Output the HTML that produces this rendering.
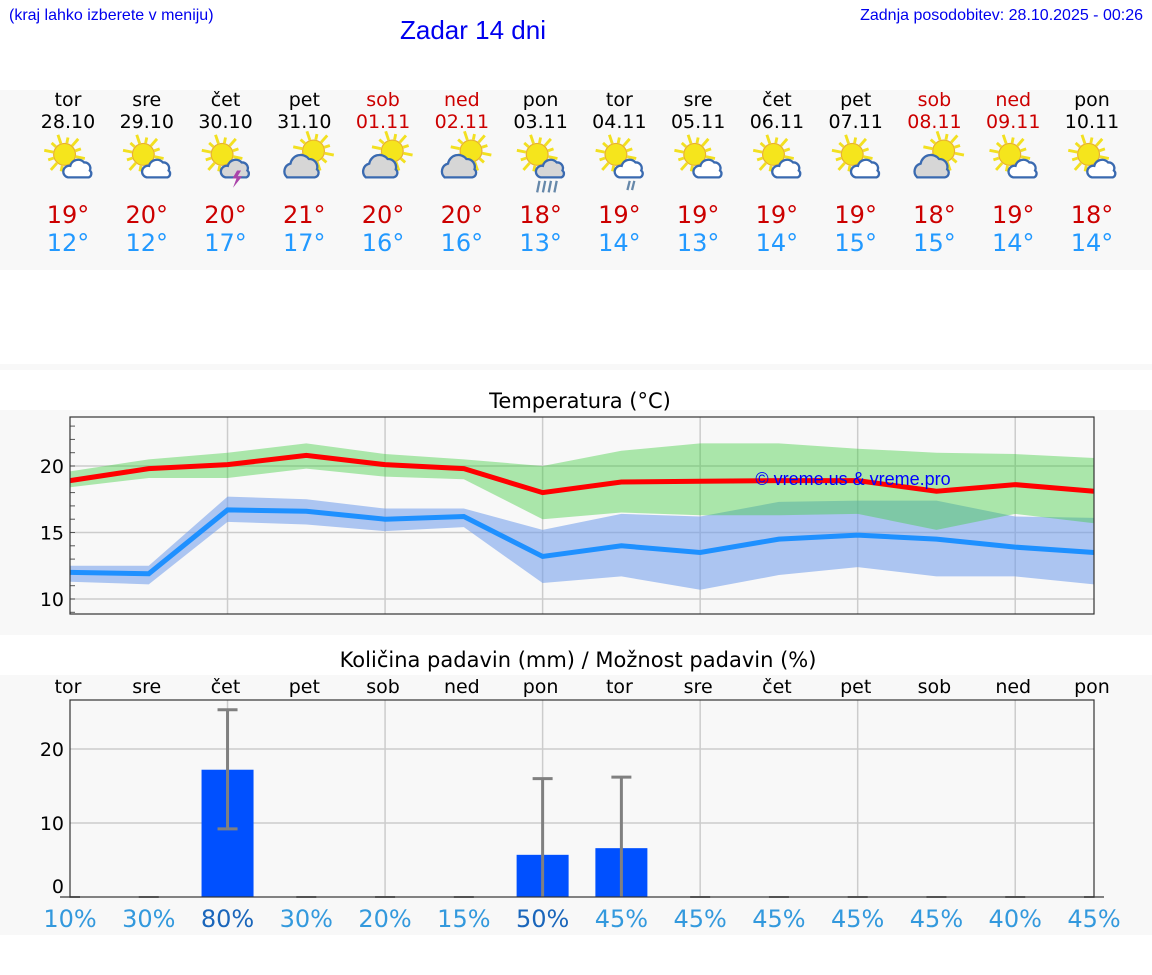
<!DOCTYPE html>
<html><head><meta charset="utf-8">
<style>
body{margin:0;width:1152px;height:975px;background:#fff;font-family:"DejaVu Sans","Liberation Sans",sans-serif;position:relative;overflow:hidden}
.abs{position:absolute}
.band{position:absolute;left:0;width:1152px;background:#f8f8f8}
.col{position:absolute;width:79px;text-align:center;font-size:19px;line-height:22px}
</style></head><body>
<div class="abs" style="left:9px;top:7px;font:16px 'Liberation Sans',sans-serif;color:#0000ee">(kraj lahko izberete v meniju)</div>
<div class="abs" style="left:400px;top:15px;font:26px 'Liberation Sans',sans-serif;color:#0000ee">Zadar 14 dni</div>
<div class="abs" style="right:9px;top:7px;font:16px 'Liberation Sans',sans-serif;color:#0000ee">Zadnja posodobitev: 28.10.2025 - 00:26</div>
<div class="band" style="top:90px;height:180px"></div>
<div class="band" style="top:364px;height:6px"></div>
<div class="band" style="top:410px;height:225px"></div>
<div class="band" style="top:675px;height:260px"></div>
<div id="days"></div>
<svg id="svg" class="abs" style="left:0;top:0" width="1152" height="975"></svg>
<script>
const days=['tor','sre','čet','pet','sob','ned','pon','tor','sre','čet','pet','sob','ned','pon'];
const dates=['28.10','29.10','30.10','31.10','01.11','02.11','03.11','04.11','05.11','06.11','07.11','08.11','09.11','10.11'];
const maxT=[19,20,20,21,20,20,18,19,19,19,19,18,19,18];
const minT=[12,12,17,17,16,16,13,14,13,14,15,15,14,14];
const icons=[0,0,2,3,3,3,6,7,0,0,0,3,0,0];
const tMax=[18.9,19.8,20.1,20.8,20.1,19.8,18.0,18.8,18.85,18.9,18.9,18.1,18.6,18.1];
const tMaxHi=[19.6,20.5,21.0,21.7,20.9,20.5,20.0,21.15,21.7,21.7,21.3,21.0,20.9,20.6];
const tMaxLo=[18.4,19.1,19.1,19.8,19.2,19.0,16.0,16.5,16.3,16.3,16.4,15.2,16.4,15.7];
const tMin=[12.0,11.9,16.7,16.6,16.0,16.2,13.2,14.0,13.5,14.5,14.8,14.5,13.9,13.5];
const tMinHi=[12.5,12.5,17.7,17.5,16.8,16.8,15.2,16.4,16.2,17.3,17.4,17.4,16.2,16.1];
const tMinLo=[11.3,11.1,15.8,15.6,15.1,15.4,11.2,11.7,10.7,11.8,12.4,11.7,11.7,11.1];
const rain=[0,0,17.2,0,0,0,5.7,6.6,0,0,0,0,0,0];
const rainLo=[0,0,9.2,0,0,0,0,0,0,0,0,0,0,0];
const rainHi=[0,0,25.3,0,0,0,16.0,16.2,0,0,0,0,0,0];
const prob=[10,30,80,30,20,15,50,45,45,45,45,45,40,45];
const tTicks=[10,15,20];
const rTicks=[0,10,20];
const NS='http://www.w3.org/2000/svg';
const svg=document.getElementById('svg');
function el(t,a,p){const e=document.createElementNS(NS,t);for(const k in a)e.setAttribute(k,a[k]);(p||svg).appendChild(e);return e;}
const X0=70,X1=1094,step=(X1-X0)/13;
const xi=i=>X0+i*step;
const ty=v=>466-(v-20)*13.3;
const ry=v=>897-v*7.4;
const dd=document.getElementById('days');
days.forEach((d,i)=>{
 const we=(i==4||i==5||i==11||i==12);
 const c=document.createElement('div');c.className='col';
 
 
 c.style.left=(xi(i)-39.5-2)+'px';c.style.top='89px';
 c.innerHTML='<div style="color:'+(we?'#cc0000':'#000')+'">'+d+'<br>'+dates[i]+'</div><div style="height:68px"></div><div style="font-size:24px;line-height:28px;color:#cc0000">'+maxT[i]+'°</div><div style="font-size:24px;line-height:28px;color:#2299ff">'+minT[i]+'°</div>';
 dd.appendChild(c);
 const cx=xi(i)-2, g=el('g',{transform:'translate('+(cx-23)+',136) scale(1.15)'});
 
 
 const big=icons[i]==3;
 const sx=big?28:17, sy=big?13:16;
 for(let a=0;a<12;a++){const an=a*Math.PI/6+0.2;el('line',{x1:sx+Math.cos(an)*10,y1:sy+Math.sin(an)*10,x2:sx+Math.cos(an)*(a%2?15:18),y2:sy+Math.sin(an)*(a%2?15:18),stroke:'#f2e020','stroke-width':2.5},g);}
 el('circle',{cx:sx,cy:sy,r:9.5,fill:'#f5e51c',stroke:'#e8b030','stroke-width':1},g);
 if(big){el('path',{d:'M5 36 a7 7 0 0 1 3-12 a9 9 0 0 1 16-4 a7 7 0 0 1 7 9 a4 4 0 0 1 -2 7 z',fill:'#d6d6d6',stroke:'#3a6ab0','stroke-width':2},g);}
 else{const grey=icons[i]==2||icons[i]==6;
  el('path',{d:'M20 36 a5 5 0 0 1 2-10 a7 7 0 0 1 12-3 a5 5 0 0 1 5 7 a3.5 3.5 0 0 1 -1 6 z',fill:grey?'#d6d6d6':'#fff',stroke:'#3a6ab0','stroke-width':2},g);
  if(icons[i]==2)el('path',{d:'M30 30 l-4 7 h3.5 l-3 8 l8-10 h-4 l3-5z',fill:'#aa44aa'},g);
  if(icons[i]==6)for(let k=0;k<4;k++)el('line',{x1:19+k*5,y1:39,x2:17+k*5,y2:49,stroke:'#6688aa','stroke-width':2},g);
  if(icons[i]==7)for(let k=0;k<2;k++)el('line',{x1:29+k*4,y1:39,x2:27+k*4,y2:47,stroke:'#6688aa','stroke-width':2},g);}
});
el('text',{x:580,y:408,'text-anchor':'middle','font-size':21,'font-family':'DejaVu Sans,sans-serif'}).textContent='Temperatura (°C)';
el('rect',{x:X0,y:417,width:X1-X0,height:197,fill:'#f8f8f8'});
tTicks.forEach(v=>{const y=ty(v);el('line',{x1:X0,x2:X1,y1:y,y2:y,stroke:'#ccc','stroke-width':1.5});
 const t=el('text',{x:64,y:y+7,'text-anchor':'end','font-size':19,'font-family':'DejaVu Sans,sans-serif'});t.textContent=v;});
for(let v=9;v<=23;v++){const y=ty(v);el('line',{x1:X0,x2:X0+5,y1:y,y2:y,stroke:'#555','stroke-width':1});}
for(let i=2;i<14;i+=2)el('line',{x1:xi(i),x2:xi(i),y1:417,y2:614,stroke:'#ccc','stroke-width':1.5});
function band(hi,lo,fill,name){let d='';hi.forEach((v,i)=>d+=(i?'L':'M')+xi(i)+' '+ty(v));for(let i=lo.length-1;i>=0;i--)d+='L'+xi(i)+' '+ty(lo[i]);
 const p=el('path',{d:d+'Z',fill:fill});}
function line(vals,col,name){const p=el('polyline',{points:vals.map((v,i)=>xi(i)+','+ty(v)).join(' '),fill:'none',stroke:col,'stroke-width':5});}
band(tMinHi,tMinLo,'rgba(110,155,235,0.55)','min-temp-range');
band(tMaxHi,tMaxLo,'rgba(62,205,62,0.42)','max-temp-range');
line(tMax,'#ff0000','max-temp-line');line(tMin,'#1e90ff','min-temp-line');
el('text',{x:853,y:485,'text-anchor':'middle','font-size':18,fill:'#0000ff','font-family':'Liberation Sans,sans-serif'}).textContent='© vreme.us & vreme.pro';
el('rect',{x:X0,y:417,width:X1-X0,height:197,fill:'none',stroke:'#333','stroke-width':1.2});
el('text',{x:578,y:667,'text-anchor':'middle','font-size':21,'font-family':'DejaVu Sans,sans-serif'}).textContent='Količina padavin (mm) / Možnost padavin (%)';
el('rect',{x:X0,y:700,width:X1-X0,height:197,fill:'#f8f8f8'});
rTicks.forEach(v=>{const y=ry(v);if(v)el('line',{x1:X0,x2:X1,y1:y,y2:y,stroke:'#ccc','stroke-width':1.5});
 const t=el('text',{x:64,y:v?y+7:893,'text-anchor':'end','font-size':19,'font-family':'DejaVu Sans,sans-serif'});t.textContent=v;});
for(let i=2;i<14;i+=2)el('line',{x1:xi(i),x2:xi(i),y1:700,y2:897,stroke:'#ccc','stroke-width':1.5});
days.forEach((d,i)=>{
 const t=el('text',{x:xi(i)-2,y:693,'text-anchor':'middle','font-size':19,'font-family':'DejaVu Sans,sans-serif'});t.textContent=d;
 if(rain[i]>0){const b=el('rect',{x:xi(i)-26,y:ry(rain[i]),width:52,height:ry(0)-ry(rain[i]),fill:'#0050ff'});
  }
 if(rainHi[i]>0){el('line',{x1:xi(i),x2:xi(i),y1:ry(rainHi[i]),y2:ry(rainLo[i]),stroke:'#808080','stroke-width':3});
  el('line',{x1:xi(i)-10,x2:xi(i)+10,y1:ry(rainHi[i]),y2:ry(rainHi[i]),stroke:'#808080','stroke-width':3});
  if(rainLo[i]>0)el('line',{x1:xi(i)-10,x2:xi(i)+10,y1:ry(rainLo[i]),y2:ry(rainLo[i]),stroke:'#808080','stroke-width':3});}
 else el('line',{x1:xi(i)-10,x2:xi(i)+10,y1:ry(0),y2:ry(0),stroke:'#808080','stroke-width':2});
 const p=el('text',{x:xi(i),y:927,'text-anchor':'middle','font-size':24,fill:prob[i]>=50?'#1a66bb':'#3399dd','font-family':'DejaVu Sans,sans-serif'});p.textContent=prob[i]+'%';
});
el('rect',{x:X0,y:700,width:X1-X0,height:197,fill:'none',stroke:'#333','stroke-width':1.2});
</script>
</body></html>
